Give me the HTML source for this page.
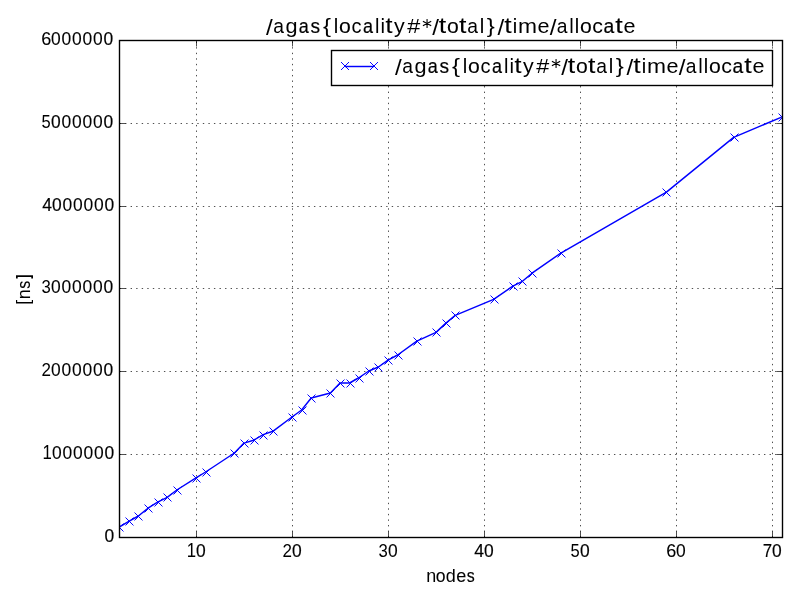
<!DOCTYPE html><html><head><meta charset="utf-8"><style>html,body{margin:0;padding:0;background:#fff;width:800px;height:600px;overflow:hidden}svg{display:block;will-change:transform}text{font-family:"Liberation Sans",sans-serif;fill:#000}</style></head><body>
<svg width="800" height="600" viewBox="0 0 800 600">
<rect width="800" height="600" fill="#fff"/>
<path d="M196.5 537.5V40.5M292.5 537.5V40.5M388.5 537.5V40.5M484.5 537.5V40.5M580.5 537.5V40.5M676.5 537.5V40.5M772.5 537.5V40.5M119.5 454.5H782.5M119.5 371.5H782.5M119.5 288.5H782.5M119.5 206.5H782.5M119.5 123.5H782.5" stroke="#000" stroke-width="0.694" stroke-dasharray="1.389 4.167" fill="none"/>
<path d="M196.5 537.5V531.5M196.5 40.5V46.5M292.5 537.5V531.5M292.5 40.5V46.5M388.5 537.5V531.5M388.5 40.5V46.5M484.5 537.5V531.5M484.5 40.5V46.5M580.5 537.5V531.5M580.5 40.5V46.5M676.5 537.5V531.5M676.5 40.5V46.5M772.5 537.5V531.5M772.5 40.5V46.5M119.5 454.5H125.5M782.5 454.5H776.5M119.5 371.5H125.5M782.5 371.5H776.5M119.5 288.5H125.5M782.5 288.5H776.5M119.5 206.5H125.5M782.5 206.5H776.5M119.5 123.5H125.5M782.5 123.5H776.5" stroke="#000" stroke-width="0.694" fill="none"/>
<clipPath id="c"><rect x="119" y="40" width="663" height="497"/></clipPath>
<g clip-path="url(#c)"><path d="M119.200 527.100L128.801 521.300L138.401 516.000L148.002 508.200L157.603 502.200L167.204 497.300L176.804 490.000L196.006 477.900L205.607 472.000L234.409 453.000L244.009 443.100L253.610 440.200L263.211 434.600L272.812 431.300L292.013 417.000L301.614 410.000L311.214 398.000L330.416 393.000L340.017 383.000L349.617 383.000L359.218 377.500L368.819 371.000L378.420 367.000L388.020 360.100L397.621 355.000L416.822 341.100L436.024 332.400L445.625 323.400L455.225 315.400L493.628 299.300L512.830 286.200L522.430 281.300L532.031 273.200L560.833 253.100L666.441 192.100L733.646 137.400L781.650 117.100" stroke="#0000ff" stroke-width="1.45" fill="none" stroke-linejoin="round"/>
<path d="M115.530 523.530L123.470 531.470M115.530 531.470L123.470 523.530M125.530 517.530L133.470 525.470M125.530 525.470L133.470 517.530M134.530 512.530L142.470 520.470M134.530 520.470L142.470 512.530M144.530 504.530L152.470 512.470M144.530 512.470L152.470 504.530M154.530 498.530L162.470 506.470M154.530 506.470L162.470 498.530M163.530 493.530L171.470 501.470M163.530 501.470L171.470 493.530M173.530 486.530L181.470 494.470M173.530 494.470L181.470 486.530M192.530 474.530L200.470 482.470M192.530 482.470L200.470 474.530M202.530 468.530L210.470 476.470M202.530 476.470L210.470 468.530M230.530 449.530L238.470 457.470M230.530 457.470L238.470 449.530M240.530 439.530L248.470 447.470M240.530 447.470L248.470 439.530M250.530 436.530L258.470 444.470M250.530 444.470L258.470 436.530M259.530 431.530L267.470 439.470M259.530 439.470L267.470 431.530M269.530 427.530L277.470 435.470M269.530 435.470L277.470 427.530M288.530 413.530L296.470 421.470M288.530 421.470L296.470 413.530M298.530 406.530L306.470 414.470M298.530 414.470L306.470 406.530M307.530 394.530L315.470 402.470M307.530 402.470L315.470 394.530M326.530 389.530L334.470 397.470M326.530 397.470L334.470 389.530M336.530 379.530L344.470 387.470M336.530 387.470L344.470 379.530M346.530 379.530L354.470 387.470M346.530 387.470L354.470 379.530M355.530 374.530L363.470 382.470M355.530 382.470L363.470 374.530M365.530 367.530L373.470 375.470M365.530 375.470L373.470 367.530M374.530 363.530L382.470 371.470M374.530 371.470L382.470 363.530M384.530 356.530L392.470 364.470M384.530 364.470L392.470 356.530M394.530 351.530L402.470 359.470M394.530 359.470L402.470 351.530M413.530 337.530L421.470 345.470M413.530 345.470L421.470 337.530M432.530 328.530L440.470 336.470M432.530 336.470L440.470 328.530M442.530 319.530L450.470 327.470M442.530 327.470L450.470 319.530M451.530 311.530L459.470 319.470M451.530 319.470L459.470 311.530M490.530 295.530L498.470 303.470M490.530 303.470L498.470 295.530M509.530 282.530L517.470 290.470M509.530 290.470L517.470 282.530M518.530 277.530L526.470 285.470M518.530 285.470L526.470 277.530M528.530 269.530L536.470 277.470M528.530 277.470L536.470 269.530M557.530 249.530L565.470 257.470M557.530 257.470L565.470 249.530M662.530 188.530L670.470 196.470M662.530 196.470L670.470 188.530M730.530 133.530L738.470 141.470M730.530 141.470L738.470 133.530M778.530 113.530L786.470 121.470M778.530 121.470L786.470 113.530" stroke="#0000ff" stroke-width="0.98" fill="none"/></g>
<rect x="119.5" y="40.5" width="663" height="497" stroke="#000" stroke-width="1.389" fill="none"/>
<rect x="331.5" y="50.5" width="441" height="35" fill="#fff" stroke="#000" stroke-width="1.389"/>
<path d="M345 66.5H374" stroke="#0000ff" stroke-width="1.45"/>
<path d="M341.030 62.030L348.970 69.970M341.030 69.970L348.970 62.030M370.030 62.030L377.970 69.970M370.030 69.970L377.970 62.030" stroke="#0000ff" stroke-width="0.98" fill="none"/>
<g><text transform="matrix(0.8408 0.0000 0.0000 0.9920 186.7441 557.3250)" font-size="20">1</text>
<text transform="matrix(0.8711 0.0000 0.0000 0.9181 196.0695 556.8207)" font-size="20" stroke="#000" stroke-width="0.2" stroke-linejoin="round">0</text>
<text transform="matrix(0.8506 0.0000 0.0000 0.8844 282.5444 556.6750)" font-size="20">2</text>
<text transform="matrix(0.8711 0.0000 0.0000 0.9181 291.9195 556.8207)" font-size="20" stroke="#000" stroke-width="0.2" stroke-linejoin="round">0</text>
<text transform="matrix(0.8371 0.0000 0.0000 0.9181 378.5249 556.8207)" font-size="20">3</text>
<text transform="matrix(0.8711 0.0000 0.0000 0.9640 388.0695 557.1367)" font-size="20" stroke="#000" stroke-width="0.1" stroke-linejoin="round">0</text>
<text transform="matrix(0.8744 0.0000 0.0000 0.8975 474.3487 556.6750)" font-size="20" stroke="#000" stroke-width="0.2" stroke-linejoin="round">4</text>
<text transform="matrix(0.8711 0.0000 0.0000 0.8722 483.9445 556.5047)" font-size="20" stroke="#000" stroke-width="0.2" stroke-linejoin="round">0</text>
<text transform="matrix(0.8255 0.0000 0.0000 0.8850 570.5889 556.5022)" font-size="20">5</text>
<text transform="matrix(0.8711 0.0000 0.0000 0.8722 579.9445 556.5047)" font-size="20" stroke="#000" stroke-width="0.2" stroke-linejoin="round">0</text>
<text transform="matrix(0.9024 0.0000 0.0000 0.9640 666.2085 557.1367)" font-size="20" stroke="#000" stroke-width="0.1" stroke-linejoin="round">6</text>
<text transform="matrix(0.8711 0.0000 0.0000 0.9640 675.9445 557.1367)" font-size="20" stroke="#000" stroke-width="0.1" stroke-linejoin="round">0</text>
<text transform="matrix(0.8524 0.0000 0.0000 0.8975 762.6509 556.6750)" font-size="20" stroke="#000" stroke-width="0.1" stroke-linejoin="round">7</text>
<text transform="matrix(0.8711 0.0000 0.0000 0.8722 771.9445 556.5047)" font-size="20" stroke="#000" stroke-width="0.2" stroke-linejoin="round">0</text>
<text transform="matrix(0.8975 0.0000 0.0000 0.9292 426.3080 582.0000)" font-size="20">n</text>
<text transform="matrix(0.8819 0.0000 0.0000 0.9127 435.6343 581.8217)" font-size="20" stroke="#000" stroke-width="0.1" stroke-linejoin="round">o</text>
<text transform="matrix(0.9034 0.0000 0.0000 0.9532 445.7413 581.8138)" font-size="20">d</text>
<text transform="matrix(0.9007 0.0000 0.0000 0.9583 456.2347 582.0628)" font-size="20" stroke="#000" stroke-width="0.1" stroke-linejoin="round">e</text>
<text transform="matrix(0.7955 0.0000 0.0000 0.9151 466.8697 581.8213)" font-size="20" stroke="#000" stroke-width="0.2" stroke-linejoin="round">s</text>
<text transform="matrix(0.8711 0.0000 0.0000 0.8722 104.4445 541.5047)" font-size="20" stroke="#000" stroke-width="0.2" stroke-linejoin="round">0</text>
<text transform="matrix(0.8408 0.0000 0.0000 0.9920 42.5941 459.3250)" font-size="20">1</text>
<text transform="matrix(0.8711 0.0000 0.0000 0.9640 52.0695 459.1367)" font-size="20" stroke="#000" stroke-width="0.1" stroke-linejoin="round">0</text>
<text transform="matrix(0.8711 0.0000 0.0000 0.9640 62.5695 459.1367)" font-size="20" stroke="#000" stroke-width="0.1" stroke-linejoin="round">0</text>
<text transform="matrix(0.8711 0.0000 0.0000 0.9640 73.0695 459.1367)" font-size="20" stroke="#000" stroke-width="0.1" stroke-linejoin="round">0</text>
<text transform="matrix(0.8711 0.0000 0.0000 0.9640 83.5695 459.1367)" font-size="20" stroke="#000" stroke-width="0.1" stroke-linejoin="round">0</text>
<text transform="matrix(0.8711 0.0000 0.0000 0.9640 94.0695 459.1367)" font-size="20" stroke="#000" stroke-width="0.1" stroke-linejoin="round">0</text>
<text transform="matrix(0.8711 0.0000 0.0000 0.8722 104.5695 458.5047)" font-size="20" stroke="#000" stroke-width="0.2" stroke-linejoin="round">0</text>
<text transform="matrix(0.8506 0.0000 0.0000 0.8844 41.3944 375.6750)" font-size="20">2</text>
<text transform="matrix(0.8711 0.0000 0.0000 0.8722 51.0695 375.5047)" font-size="20" stroke="#000" stroke-width="0.1" stroke-linejoin="round">0</text>
<text transform="matrix(0.8711 0.0000 0.0000 0.9640 61.5695 376.1367)" font-size="20" stroke="#000" stroke-width="0.1" stroke-linejoin="round">0</text>
<text transform="matrix(0.8711 0.0000 0.0000 0.9640 72.0695 376.1367)" font-size="20" stroke="#000" stroke-width="0.1" stroke-linejoin="round">0</text>
<text transform="matrix(0.8711 0.0000 0.0000 0.9640 82.5695 376.1367)" font-size="20" stroke="#000" stroke-width="0.1" stroke-linejoin="round">0</text>
<text transform="matrix(0.8711 0.0000 0.0000 0.9640 93.0695 376.1367)" font-size="20" stroke="#000" stroke-width="0.1" stroke-linejoin="round">0</text>
<text transform="matrix(0.8711 0.0000 0.0000 0.8722 103.5695 375.5047)" font-size="20" stroke="#000" stroke-width="0.2" stroke-linejoin="round">0</text>
<text transform="matrix(0.8371 0.0000 0.0000 0.9181 41.5249 292.8207)" font-size="20">3</text>
<text transform="matrix(0.8711 0.0000 0.0000 0.9640 51.0695 293.1367)" font-size="20" stroke="#000" stroke-width="0.1" stroke-linejoin="round">0</text>
<text transform="matrix(0.8711 0.0000 0.0000 0.9640 61.5695 293.1367)" font-size="20" stroke="#000" stroke-width="0.1" stroke-linejoin="round">0</text>
<text transform="matrix(0.8711 0.0000 0.0000 0.9640 72.0695 293.1367)" font-size="20" stroke="#000" stroke-width="0.1" stroke-linejoin="round">0</text>
<text transform="matrix(0.8711 0.0000 0.0000 0.9640 82.5695 293.1367)" font-size="20" stroke="#000" stroke-width="0.1" stroke-linejoin="round">0</text>
<text transform="matrix(0.8711 0.0000 0.0000 0.9640 93.0695 293.1367)" font-size="20" stroke="#000" stroke-width="0.1" stroke-linejoin="round">0</text>
<text transform="matrix(0.8711 0.0000 0.0000 0.8722 103.5695 292.5047)" font-size="20" stroke="#000" stroke-width="0.2" stroke-linejoin="round">0</text>
<text transform="matrix(0.8744 0.0000 0.0000 0.8975 42.3487 210.6750)" font-size="20" stroke="#000" stroke-width="0.2" stroke-linejoin="round">4</text>
<text transform="matrix(0.8711 0.0000 0.0000 0.8722 51.9445 210.5047)" font-size="20" stroke="#000" stroke-width="0.2" stroke-linejoin="round">0</text>
<text transform="matrix(0.8711 0.0000 0.0000 0.9640 62.4445 211.1367)" font-size="20" stroke="#000" stroke-width="0.1" stroke-linejoin="round">0</text>
<text transform="matrix(0.8711 0.0000 0.0000 0.9640 72.9445 211.1367)" font-size="20" stroke="#000" stroke-width="0.1" stroke-linejoin="round">0</text>
<text transform="matrix(0.8711 0.0000 0.0000 0.9640 83.4445 211.1367)" font-size="20" stroke="#000" stroke-width="0.1" stroke-linejoin="round">0</text>
<text transform="matrix(0.8711 0.0000 0.0000 0.9640 93.9445 211.1367)" font-size="20" stroke="#000" stroke-width="0.1" stroke-linejoin="round">0</text>
<text transform="matrix(0.8711 0.0000 0.0000 0.8722 104.4445 210.5047)" font-size="20" stroke="#000" stroke-width="0.2" stroke-linejoin="round">0</text>
<text transform="matrix(0.8255 0.0000 0.0000 0.8850 41.5889 127.5022)" font-size="20">5</text>
<text transform="matrix(0.8711 0.0000 0.0000 0.8722 50.9445 127.5047)" font-size="20" stroke="#000" stroke-width="0.2" stroke-linejoin="round">0</text>
<text transform="matrix(0.8711 0.0000 0.0000 0.9640 61.4445 128.1367)" font-size="20" stroke="#000" stroke-width="0.1" stroke-linejoin="round">0</text>
<text transform="matrix(0.8711 0.0000 0.0000 0.9640 71.9445 128.1367)" font-size="20" stroke="#000" stroke-width="0.1" stroke-linejoin="round">0</text>
<text transform="matrix(0.8711 0.0000 0.0000 0.9640 82.4445 128.1367)" font-size="20" stroke="#000" stroke-width="0.1" stroke-linejoin="round">0</text>
<text transform="matrix(0.8711 0.0000 0.0000 0.9640 92.9445 128.1367)" font-size="20" stroke="#000" stroke-width="0.1" stroke-linejoin="round">0</text>
<text transform="matrix(0.8711 0.0000 0.0000 0.8722 103.4445 127.5047)" font-size="20" stroke="#000" stroke-width="0.2" stroke-linejoin="round">0</text>
<text transform="matrix(0.9024 0.0000 0.0000 0.9640 41.2085 45.1367)" font-size="20" stroke="#000" stroke-width="0.1" stroke-linejoin="round">6</text>
<text transform="matrix(0.8711 0.0000 0.0000 0.9640 50.9445 45.1367)" font-size="20" stroke="#000" stroke-width="0.1" stroke-linejoin="round">0</text>
<text transform="matrix(0.8711 0.0000 0.0000 0.9640 61.4445 45.1367)" font-size="20" stroke="#000" stroke-width="0.1" stroke-linejoin="round">0</text>
<text transform="matrix(0.8711 0.0000 0.0000 0.9640 71.9445 45.1367)" font-size="20" stroke="#000" stroke-width="0.1" stroke-linejoin="round">0</text>
<text transform="matrix(0.8711 0.0000 0.0000 0.9640 82.4445 45.1367)" font-size="20" stroke="#000" stroke-width="0.1" stroke-linejoin="round">0</text>
<text transform="matrix(0.8711 0.0000 0.0000 0.9640 92.9445 45.1367)" font-size="20" stroke="#000" stroke-width="0.1" stroke-linejoin="round">0</text>
<text transform="matrix(0.8711 0.0000 0.0000 0.8722 103.4445 44.5047)" font-size="20" stroke="#000" stroke-width="0.2" stroke-linejoin="round">0</text>
<text transform="matrix(0.0000 -0.8688 0.8725 0.0000 28.6444 304.8637)" font-size="20">[</text>
<text transform="matrix(0.0000 -0.8975 0.9292 0.0000 29.8500 299.3420)" font-size="20" stroke="#000" stroke-width="0.1" stroke-linejoin="round">n</text>
<text transform="matrix(0.0000 -0.7955 0.9151 0.0000 29.8213 288.6553)" font-size="20" stroke="#000" stroke-width="0.1" stroke-linejoin="round">s</text>
<text transform="matrix(0.0000 -0.6177 0.8725 0.0000 28.6444 278.7153)" font-size="20" font-weight="bold">]</text>
<text transform="matrix(1.2120 0.0000 0.0000 1.0894 266.0000 34.7872)" font-size="20">/</text>
<text transform="matrix(0.9634 0.0000 0.0000 1.0039 273.1577 32.8039)" font-size="20">a</text>
<text transform="matrix(1.0840 0.0000 0.0000 1.0079 285.4896 32.8169)" font-size="20">g</text>
<text transform="matrix(0.9004 0.0000 0.0000 1.0039 298.6600 32.8039)" font-size="20" stroke="#000" stroke-width="0.2" stroke-linejoin="round">a</text>
<text transform="matrix(0.9550 0.0000 0.0000 1.0569 310.4809 33.3686)" font-size="20" stroke="#000" stroke-width="0.2" stroke-linejoin="round">s</text>
<text transform="matrix(1.2020 0.0000 0.0000 1.0420 322.9346 32.9379)" font-size="20">{</text>
<text transform="matrix(0.6377 0.0000 0.0000 1.0350 334.3594 33.3000)" font-size="20" font-weight="bold" stroke="#000" stroke-width="0.1" stroke-linejoin="round">l</text>
<text transform="matrix(1.0606 0.0000 0.0000 1.0039 339.1093 32.8039)" font-size="20" stroke="#000" stroke-width="0.1" stroke-linejoin="round">o</text>
<text transform="matrix(1.0002 0.0000 0.0000 1.0039 351.4002 32.8039)" font-size="20">c</text>
<text transform="matrix(0.9004 0.0000 0.0000 1.0039 362.9100 32.8039)" font-size="20" stroke="#000" stroke-width="0.2" stroke-linejoin="round">a</text>
<text transform="matrix(0.9956 0.0000 0.0000 1.0350 375.0333 33.0000)" font-size="20">l</text>
<text transform="matrix(0.6377 0.0000 0.0000 1.0350 380.9844 33.0000)" font-size="20" font-weight="bold">i</text>
<text transform="matrix(1.2519 0.0000 0.0000 1.0699 385.5616 32.8328)" font-size="20" stroke="#000" stroke-width="0.1" stroke-linejoin="round">t</text>
<text transform="matrix(1.0735 0.0000 0.0000 1.0192 394.1132 32.7697)" font-size="20">y</text>
<text transform="matrix(1.1691 0.0000 0.0000 0.9721 407.1285 32.6500)" font-size="20">#</text>
<path d="M427.062 19.600V27.400" stroke="#000" stroke-width="1.1" stroke-linecap="round"/><path d="M423.356 21.500L430.769 25.500M423.356 25.500L430.769 21.500" stroke="#000" stroke-width="1.2" stroke-linecap="round"/>
<text transform="matrix(1.2120 0.0000 0.0000 1.0894 432.1250 34.7872)" font-size="20">/</text>
<text transform="matrix(1.3461 0.0000 0.0000 1.0699 438.6675 32.8328)" font-size="20">t</text>
<text transform="matrix(1.0606 0.0000 0.0000 1.0541 446.9843 33.0691)" font-size="20" stroke="#000" stroke-width="0.1" stroke-linejoin="round">o</text>
<text transform="matrix(1.3461 0.0000 0.0000 1.0699 459.0925 32.8328)" font-size="20">t</text>
<text transform="matrix(0.9634 0.0000 0.0000 1.0039 467.2827 32.8039)" font-size="20">a</text>
<text transform="matrix(0.6377 0.0000 0.0000 1.0350 480.2344 33.3000)" font-size="20" font-weight="bold" stroke="#000" stroke-width="0.2" stroke-linejoin="round">l</text>
<text transform="matrix(1.2040 0.0000 0.0000 0.9924 486.8215 32.6814)" font-size="20">}</text>
<text transform="matrix(1.2120 0.0000 0.0000 1.0894 497.5000 35.0872)" font-size="20">/</text>
<text transform="matrix(1.3461 0.0000 0.0000 1.0699 504.3425 32.8328)" font-size="20">t</text>
<text transform="matrix(0.9956 0.0000 0.0000 1.0350 512.6681 33.0000)" font-size="20" stroke="#000" stroke-width="0.2" stroke-linejoin="round">i</text>
<text transform="matrix(1.1417 0.0000 0.0000 1.0221 517.9836 33.0000)" font-size="20">m</text>
<text transform="matrix(1.0789 0.0000 0.0000 1.0039 537.4584 32.8039)" font-size="20">e</text>
<text transform="matrix(1.2120 0.0000 0.0000 1.0894 549.6250 34.7872)" font-size="20">/</text>
<text transform="matrix(0.9634 0.0000 0.0000 1.0039 556.7827 32.6539)" font-size="20">a</text>
<text transform="matrix(0.6377 0.0000 0.0000 0.9833 569.7344 32.6250)" font-size="20" font-weight="bold">l</text>
<text transform="matrix(0.9956 0.0000 0.0000 1.0350 574.7833 33.0000)" font-size="20" stroke="#000" stroke-width="0.1" stroke-linejoin="round">l</text>
<text transform="matrix(1.0606 0.0000 0.0000 1.0541 579.9843 33.0691)" font-size="20" stroke="#000" stroke-width="0.1" stroke-linejoin="round">o</text>
<text transform="matrix(1.0702 0.0000 0.0000 1.0541 592.2138 33.0691)" font-size="20">c</text>
<text transform="matrix(0.9634 0.0000 0.0000 1.0039 603.4077 32.8039)" font-size="20" stroke="#000" stroke-width="0.2" stroke-linejoin="round">a</text>
<text transform="matrix(1.3461 0.0000 0.0000 1.0699 615.1675 32.8328)" font-size="20" stroke="#000" stroke-width="0.1" stroke-linejoin="round">t</text>
<text transform="matrix(1.0789 0.0000 0.0000 1.0541 623.4584 33.0691)" font-size="20">e</text>
<text transform="matrix(1.2120 0.0000 0.0000 1.0894 395.0000 74.7872)" font-size="20">/</text>
<text transform="matrix(0.9634 0.0000 0.0000 1.0039 402.1577 72.8039)" font-size="20">a</text>
<text transform="matrix(1.0840 0.0000 0.0000 1.0079 414.4896 72.8169)" font-size="20">g</text>
<text transform="matrix(0.9004 0.0000 0.0000 1.0039 427.6600 72.8039)" font-size="20" stroke="#000" stroke-width="0.2" stroke-linejoin="round">a</text>
<text transform="matrix(0.9550 0.0000 0.0000 1.0569 439.4809 73.3686)" font-size="20" stroke="#000" stroke-width="0.2" stroke-linejoin="round">s</text>
<text transform="matrix(1.2020 0.0000 0.0000 1.0420 451.9346 72.9379)" font-size="20">{</text>
<text transform="matrix(0.6377 0.0000 0.0000 1.0350 463.3594 73.3000)" font-size="20" font-weight="bold" stroke="#000" stroke-width="0.1" stroke-linejoin="round">l</text>
<text transform="matrix(1.0606 0.0000 0.0000 1.0039 468.1093 72.8039)" font-size="20" stroke="#000" stroke-width="0.1" stroke-linejoin="round">o</text>
<text transform="matrix(1.0002 0.0000 0.0000 1.0039 480.4002 72.8039)" font-size="20">c</text>
<text transform="matrix(0.9004 0.0000 0.0000 1.0039 491.9100 72.8039)" font-size="20" stroke="#000" stroke-width="0.2" stroke-linejoin="round">a</text>
<text transform="matrix(0.9956 0.0000 0.0000 1.0350 504.0333 73.0000)" font-size="20">l</text>
<text transform="matrix(0.6377 0.0000 0.0000 1.0350 509.9844 73.0000)" font-size="20" font-weight="bold">i</text>
<text transform="matrix(1.2519 0.0000 0.0000 1.0699 514.5616 72.8328)" font-size="20" stroke="#000" stroke-width="0.1" stroke-linejoin="round">t</text>
<text transform="matrix(1.0735 0.0000 0.0000 1.0192 523.1132 72.7697)" font-size="20">y</text>
<text transform="matrix(1.1691 0.0000 0.0000 0.9721 536.1285 72.6500)" font-size="20">#</text>
<path d="M556.062 59.600V67.400" stroke="#000" stroke-width="1.1" stroke-linecap="round"/><path d="M552.356 61.500L559.769 65.500M552.356 65.500L559.769 61.500" stroke="#000" stroke-width="1.2" stroke-linecap="round"/>
<text transform="matrix(1.2120 0.0000 0.0000 1.0894 561.1250 74.7872)" font-size="20">/</text>
<text transform="matrix(1.3461 0.0000 0.0000 1.0699 567.6675 72.8328)" font-size="20">t</text>
<text transform="matrix(1.0606 0.0000 0.0000 1.0541 575.9843 73.0691)" font-size="20" stroke="#000" stroke-width="0.1" stroke-linejoin="round">o</text>
<text transform="matrix(1.3461 0.0000 0.0000 1.0699 588.0925 72.8328)" font-size="20">t</text>
<text transform="matrix(0.9634 0.0000 0.0000 1.0039 596.2827 72.8039)" font-size="20">a</text>
<text transform="matrix(0.6377 0.0000 0.0000 1.0350 609.2344 73.3000)" font-size="20" font-weight="bold" stroke="#000" stroke-width="0.2" stroke-linejoin="round">l</text>
<text transform="matrix(1.2040 0.0000 0.0000 0.9924 615.8215 72.6814)" font-size="20">}</text>
<text transform="matrix(1.2120 0.0000 0.0000 1.0894 626.5000 75.0872)" font-size="20">/</text>
<text transform="matrix(1.3461 0.0000 0.0000 1.0699 633.3425 72.8328)" font-size="20">t</text>
<text transform="matrix(0.9956 0.0000 0.0000 1.0350 641.6681 73.0000)" font-size="20" stroke="#000" stroke-width="0.2" stroke-linejoin="round">i</text>
<text transform="matrix(1.1417 0.0000 0.0000 1.0221 646.9836 73.0000)" font-size="20">m</text>
<text transform="matrix(1.0789 0.0000 0.0000 1.0039 666.4584 72.8039)" font-size="20">e</text>
<text transform="matrix(1.2120 0.0000 0.0000 1.0894 678.6250 74.7872)" font-size="20">/</text>
<text transform="matrix(0.9634 0.0000 0.0000 1.0039 685.7827 72.6539)" font-size="20">a</text>
<text transform="matrix(0.6377 0.0000 0.0000 0.9833 698.7344 72.6250)" font-size="20" font-weight="bold">l</text>
<text transform="matrix(0.9956 0.0000 0.0000 1.0350 703.7833 73.0000)" font-size="20" stroke="#000" stroke-width="0.1" stroke-linejoin="round">l</text>
<text transform="matrix(1.0606 0.0000 0.0000 1.0541 708.9843 73.0691)" font-size="20" stroke="#000" stroke-width="0.1" stroke-linejoin="round">o</text>
<text transform="matrix(1.0702 0.0000 0.0000 1.0541 721.2138 73.0691)" font-size="20">c</text>
<text transform="matrix(0.9634 0.0000 0.0000 1.0039 732.4077 72.8039)" font-size="20" stroke="#000" stroke-width="0.2" stroke-linejoin="round">a</text>
<text transform="matrix(1.3461 0.0000 0.0000 1.0699 744.1675 72.8328)" font-size="20" stroke="#000" stroke-width="0.1" stroke-linejoin="round">t</text>
<text transform="matrix(1.0789 0.0000 0.0000 1.0541 752.4584 73.0691)" font-size="20">e</text></g>
</svg></body></html>
